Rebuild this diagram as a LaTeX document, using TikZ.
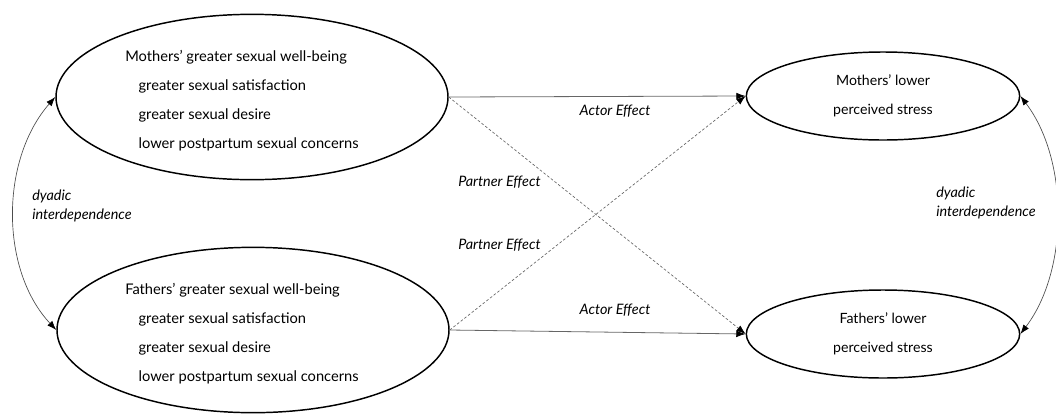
\documentclass[tikz,border=0pt]{standalone}
\usepackage{fontspec}
\setmainfont{Lato}
\usetikzlibrary{shapes.geometric,arrows.meta}

\begin{document}
\begin{tikzpicture}[x=0.75pt, y=-0.75pt,
    bigoval/.style={draw, ellipse, line width=1.1pt, minimum width=294pt, minimum height=124pt, inner sep=0pt},
    oval/.style={draw, ellipse, line width=1.1pt, minimum width=205pt, minimum height=66pt, inner sep=0pt, align=center, font=\fontsize{10.6}{21.75}\selectfont},
    txt/.style={inner sep=0pt, align=left, font=\fontsize{11}{21.75}\selectfont},
    lbl/.style={inner sep=0pt, font=\fontsize{10.8}{14}\selectfont\itshape},
    actor/.style={draw=black!60, line width=0.6pt, -{Latex[length=7pt,width=5pt,black]}},
    partner/.style={draw=black!60, line width=0.5pt, dash pattern=on 2pt off 1.5pt, -{Latex[length=7pt,width=5pt,black]}},
    dyad/.style={draw=black!70, line width=0.5pt, {Latex[length=7pt,width=5pt,black]}-{Latex[length=7pt,width=5pt,black]}}]
    \useasboundingbox (0,0) rectangle (1056,415);

    % ellipses
    \node[bigoval] (mw) at (252,97) {};
    \node[bigoval] (fw) at (253,330) {};
    \node[oval] (ms) at (883,96) {Mothers' lower\\perceived stress};
    \node[oval] (fs) at (883,334) {Fathers' lower\\perceived stress};

    \node[txt, anchor=north west] (mwt) at (125,50) {Mothers' greater sexual well-being\\
        \hspace*{10pt}greater sexual satisfaction\\
        \hspace*{10pt}greater sexual desire\\
        \hspace*{10pt}lower postpartum sexual concerns};
    \node[txt, anchor=north west] (fwt) at (125,283) {Fathers' greater sexual well-being\\
        \hspace*{10pt}greater sexual satisfaction\\
        \hspace*{10pt}greater sexual desire\\
        \hspace*{10pt}lower postpartum sexual concerns};

    % effects
    \draw[actor] (mw.east) -- (ms.west);
    \draw[actor] (fw.east) -- (fs.west);
    \draw[partner] (mw.east) -- (fs.west);
    \draw[partner] (fw.east) -- (ms.west);

    \node[lbl] (ae1) at (615,111) {Actor Effect};
    \node[lbl] (ae2) at (615,310) {Actor Effect};
    \node[lbl, anchor=west] (pe1) at (458,182) {Partner Effect};
    \node[lbl, anchor=west] (pe2) at (458,245) {Partner Effect};

    % dyadic interdependence
    \draw[dyad] (mw.west) .. controls (0,160) and (0,270) .. (fw.west);
    \draw[dyad] (ms.east) .. controls (1069,160) and (1069,270) .. (fs.east);
    \node[lbl, anchor=west, align=left] (dl) at (32,206) {dyadic\\interdependence};
    \node[lbl, anchor=west, align=left] (dr) at (936,203) {dyadic\\interdependence};
\end{tikzpicture}
\end{document}
